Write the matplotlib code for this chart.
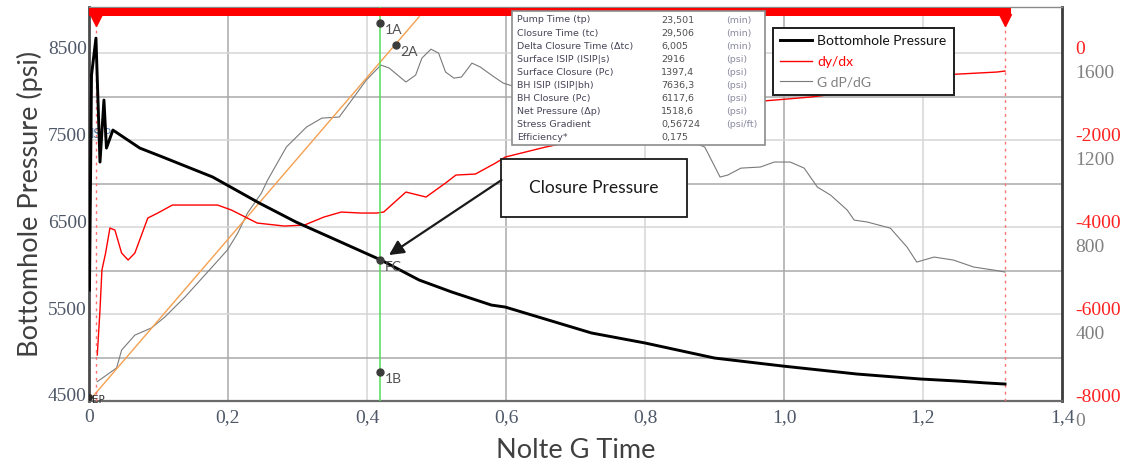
import matplotlib
matplotlib.use('Agg')
import matplotlib.pyplot as plt
import matplotlib.transforms as mtransforms
from matplotlib.lines import Line2D
from matplotlib.patches import Rectangle

plt.rcParams['axes.unicode_minus'] = False

# Dados
bhp_g = [0.0007, 0.0036, 0.010, 0.0158, 0.0215, 0.0251, 0.0344, 0.0731, 0.106,
         0.178, 0.245, 0.298, 0.356, 0.420, 0.475, 0.522, 0.579, 0.599, 0.723,
         0.800, 0.900, 0.998, 1.105, 1.196, 1.249, 1.292, 1.318]
bhp_psi = [5776, 8247, 8672, 7247, 7960, 7408, 7615, 7408, 7305,
           7075, 6776, 6557, 6350, 6121, 5891, 5753, 5603, 5580, 5282,
           5167, 4994, 4902, 4810, 4753, 4730, 4707, 4695]

dydx_g = [0.0119, 0.0158, 0.0186, 0.0239, 0.0301, 0.0373, 0.0469, 0.0563, 0.066,
          0.0846, 0.0989, 0.120, 0.185, 0.205, 0.242, 0.281, 0.310, 0.338, 0.363,
          0.391, 0.414, 0.424, 0.456, 0.485, 0.513, 0.528, 0.556, 0.585, 0.599,
          0.657, 0.761, 0.862, 0.952, 1.038, 1.120, 1.224, 1.306, 1.318]
dydx_val = [-6942, -5908, -4988, -4597, -4023, -4069, -4597, -4758, -4597,
            -3793, -3678, -3494, -3494, -3609, -3908, -3977, -3954, -3770, -3655,
            -3678, -3678, -3655, -3195, -3310, -2988, -2804, -2781, -2528, -2390,
            -2160, -1816, -1425, -1126, -1011, -850, -505, -436, -413]

gdp_g = [0.0119, 0.0397, 0.0469, 0.066, 0.0899, 0.109, 0.138, 0.176, 0.199, 0.214,
         0.228, 0.248, 0.257, 0.284, 0.313, 0.335, 0.360, 0.378, 0.399, 0.420,
         0.432, 0.456, 0.470, 0.479, 0.492, 0.503, 0.513, 0.525, 0.536, 0.551,
         0.563, 0.579, 0.596, 0.675, 0.790, 0.886, 0.908, 0.919, 0.938, 0.966,
         0.986, 1.009, 1.029, 1.048, 1.067, 1.091, 1.101, 1.120, 1.153, 1.177,
         1.191, 1.216, 1.244, 1.273, 1.302, 1.318]
gdp_val = [89, 152, 234, 303, 336, 386, 478, 612, 694, 772,
           864, 956, 1016, 1168, 1260, 1301, 1306, 1384, 1476, 1545,
           1531, 1467, 1499, 1577, 1618, 1600, 1513, 1485, 1490, 1554,
           1536, 1499, 1462, 1384, 1292, 1168, 1030, 1039, 1071, 1076,
           1099, 1099, 1071, 984, 947, 878, 832, 823, 795, 708,
           639, 662, 648, 616, 602, 593]

tangent_slope = 3720     # reta pela origem (G dP/dG por unidade de G)
tangent_end_g = 0.475

shutin_g = 0.01
closure_g = 0.419
end_g = 1.318
bar_end_g = 1.327

point_names = ['1A', '2A', '1B', 'FC']
point_g = [0.419, 0.4416, 0.419, 0.419]
point_psi = [8845, 8592, 4833, 6121]

x_ticks = [0, 0.2, 0.4, 0.6, 0.8, 1.0, 1.2, 1.4]
x_tick_labels = ['0', '0,2', '0,4', '0,6', '0,8', '1,0', '1,2', '1,4']
x_grid_dark = [0.2, 0.6, 1.0]
x_grid_light = [0.4, 0.8, 1.2]
psi_ticks = [4500, 5500, 6500, 7500, 8500]
psi_grid_dark = [5000, 6000, 7000, 8000]
dydx_ticks = [-8000, -6000, -4000, -2000, 0]
gdp_ticks = [0, 400, 800, 1200, 1600]

table_labels = ['Pump Time (tp)', 'Closure Time (tc)', 'Delta Closure Time (\u0394tc)',
                'Surface ISIP (ISIP|s)', 'Surface Closure (Pc)', 'BH ISIP (ISIP|bh)',
                'BH Closure (Pc)', 'Net Pressure (\u0394p)', 'Stress Gradient', 'Efficiency*']
table_values = ['23,501', '29,506', '6,005', '2916', '1397,4', '7636,3',
                '6117,6', '1518,6', '0,56724', '0,175']
table_units = ['(min)', '(min)', '(min)', '(psi)', '(psi)', '(psi)',
               '(psi)', '(psi)', '(psi/ft)', '']

# limites: eixos direitos alinhados com a grade em psi
psi_lim = (4500, 9030)
dydx_lim = (-8000, (psi_lim[1] - 8500) * 2)
gdp_lim = (0, (psi_lim[1] - 4500) * 0.4)

TICK_FONT = 'Liberation Serif'
LABEL_FONT = 'Lato'

fig = plt.figure(figsize=(11.3, 4.68), dpi=100)
ax = fig.add_axes([89 / 1130, 1 - 401 / 468, 973 / 1130, 394 / 468])
ax_red = ax.twinx()
ax_gray = ax.twinx()

# ordem: cinza embaixo, vermelho no meio, pressao + anotacoes em cima
ax_gray.set_zorder(1)
ax_red.set_zorder(2)
ax.set_zorder(3)
ax.patch.set_visible(False)
ax_red.patch.set_visible(False)
ax_gray.patch.set_visible(True)
ax_gray.patch.set_facecolor('white')

# grade (desenhada no eixo de baixo)
for xg in x_grid_dark:
    ax_gray.axvline(xg, color='#a9a9a9', lw=1.1, zorder=0)
for xg in x_grid_light:
    ax_gray.axvline(xg, color='#d6d6d6', lw=1.1, zorder=0)
hblend = mtransforms.blended_transform_factory(ax_gray.transAxes, ax.transData)
for p in psi_grid_dark:
    ax_gray.add_line(Line2D([0, 1], [p, p], transform=hblend, color='#a9a9a9', lw=1.1, zorder=0))
for p in psi_ticks[1:]:
    ax_gray.add_line(Line2D([0, 1], [p, p], transform=hblend, color='#d6d6d6', lw=1.1, zorder=0))

# curvas
gray_line, = ax_gray.plot(gdp_g, gdp_val, color='#7a7a7a', lw=0.8, label='G dP/dG')
ax_gray.plot([0, tangent_end_g], [0, tangent_slope * tangent_end_g],
             color='#f5a050', lw=1.0)
red_line, = ax_red.plot(dydx_g, dydx_val, color='#ff0000', lw=1.0, label='dy/dx')
black_line, = ax.plot(bhp_g, bhp_psi, color='black', lw=2.1, label='Bottomhole Pressure',
                      zorder=4)

# linhas verticais: fechamento e limites
ax.axvline(closure_g, color='#55dd55', lw=1.1, zorder=3)
for xv in [shutin_g, end_g]:
    ax.axvline(xv, color='#ff7070', lw=1.0, ls=(0, (2, 3)), zorder=3)

# barra vermelha no topo
btrans = mtransforms.blended_transform_factory(ax.transData, ax.transAxes)
ax.fill_between([0, bar_end_g], 0.977, 0.9975, transform=btrans, color='#ff0000',
                lw=0, zorder=6)
ax.plot([shutin_g, end_g], [0.968, 0.968], 'v', transform=btrans, color='#ff0000',
        ms=8, zorder=6)

# pontos selecionados
ax.plot(point_g, point_psi, 'o', color='#3c3c3c', ms=5, zorder=7)
for name, g, p in zip(point_names, point_g, point_psi):
    ax.annotate(name, (g, p), xytext=(3, -5), textcoords='offset points',
                fontsize=10, family=LABEL_FONT, color='#505050', va='center', zorder=7)
ax.text(0.003, 7569, 'ISIP', fontsize=9, family=LABEL_FONT, color='#5b7fa5',
        va='center', ha='left', zorder=3)
ax.plot([0.0007], [4546], 'o', color='#2a2a2a', ms=4, zorder=7)
ax.text(0.005, 4515, 'EP', fontsize=7.5, color='#333333', va='center', zorder=7)

# caixa "Closure Pressure" com seta
ax.add_patch(Rectangle((0.5935, 6615), 0.2667, 667, facecolor='white',
                       edgecolor='#1a1a1a', lw=1.3, zorder=8))
ax.text(0.5935 + 0.2667 / 2, 6948, 'Closure Pressure', fontsize=12.5,
        family=LABEL_FONT, color='#1a1a1a', ha='center', va='center', zorder=9)
ax.annotate('', xy=(0.4316, 6178), xytext=(0.5935, 7040),
            arrowprops=dict(arrowstyle='-|>', color='#1a1a1a', lw=1.6,
                            mutation_scale=22, shrinkA=0, shrinkB=0), zorder=9)

# tabela de resultados
ax.add_patch(Rectangle((0.4347, 0.6497), 0.2601, 0.3401, transform=ax.transAxes,
                       facecolor='white', edgecolor='#8c8c8c', lw=1.2, zorder=10))
row_y0 = (401 - 20) / 394
row_dy = 13.1 / 394
for i, (lab, val, unit) in enumerate(zip(table_labels, table_values, table_units)):
    yy = row_y0 - i * row_dy
    ax.text(0.4399, yy, lab, transform=ax.transAxes, fontsize=6.8, color='#4a4458',
            va='center', zorder=11)
    ax.text(0.5879, yy, val, transform=ax.transAxes, fontsize=6.8, color='#4f4f4f',
            va='center', zorder=11)
    ax.text(0.6547, yy, unit, transform=ax.transAxes, fontsize=6.8, color='#8a8aa0',
            va='center', zorder=11)

# legenda
leg = ax.legend(handles=[black_line, red_line, gray_line], loc='upper left',
                bbox_to_anchor=(0.703, 0.9467), borderaxespad=0, fancybox=False,
                prop={'family': LABEL_FONT, 'size': 10}, handlelength=2.3,
                handletextpad=0.4, labelspacing=0.62, borderpad=0.5, framealpha=1)
leg.get_frame().set_edgecolor('#1e1e1e')
leg.get_frame().set_linewidth(1.4)
leg.set_zorder(12)
for txt, col in zip(leg.get_texts(), ['#111111', '#ff0000', '#808080']):
    txt.set_color(col)

# eixos e ticks
ax.set_xlim(0, 1.395)
ax.set_ylim(*psi_lim)
ax_red.set_ylim(*dydx_lim)
ax_gray.set_ylim(*gdp_lim)

ax.set_xticks(x_ticks)
ax.set_xticklabels(x_tick_labels)
ax.set_yticks(psi_ticks)
ax_red.set_yticks(dydx_ticks)
ax_gray.set_yticks(gdp_ticks)

ax.tick_params(axis='both', length=0, labelsize=14, labelcolor='#4e5868')
ax.tick_params(axis='x', pad=6)
ax.tick_params(axis='y', pad=1.5)
ax_red.tick_params(axis='y', length=0, labelsize=14, labelcolor='#ff2020', pad=9.5)
ax_gray.tick_params(axis='y', length=0, labelsize=14, labelcolor='#808080', pad=9.5)
for a in (ax, ax_red, ax_gray):
    for lbl in a.get_xticklabels() + a.get_yticklabels():
        lbl.set_family(TICK_FONT)

for a in (ax_red, ax_gray):
    for s in a.spines.values():
        s.set_visible(False)
ax.spines['left'].set_color('#4a4a4a')
ax.spines['left'].set_linewidth(2)
ax.spines['bottom'].set_color('#6a6a6a')
ax.spines['bottom'].set_linewidth(1.6)
ax.spines['right'].set_color('#3c3c3c')
ax.spines['right'].set_linewidth(2)
ax.spines['top'].set_color('#8a8a8a')
ax.spines['top'].set_linewidth(1)

ax.set_xlabel('Nolte G Time', fontsize=19.5, family=LABEL_FONT, color='#404040')
ax.set_ylabel('Bottomhole Pressure (psi)', fontsize=19.5, family=LABEL_FONT, color='#404040')
ax.xaxis.label.set_va('center')
ax.yaxis.label.set_va('center')
ax.xaxis.set_label_coords(0.5, -(450 - 401) / 394)
ax.yaxis.set_label_coords(-(89 - 30) / 973, 0.5)

# rotulos do eixo y deslocados: vermelho/psi acima da grade, cinza abaixo
fig.canvas.draw()


def shift_labels(labels, dy_px):
    off = mtransforms.ScaledTranslation(0, dy_px / fig.dpi, fig.dpi_scale_trans)
    for lbl in labels:
        lbl.set_transform(lbl.get_transform() + off)


shift_labels(ax.get_yticklabels(), 6)
shift_labels(ax_red.get_yticklabels(), 6)
shift_labels(ax_gray.get_yticklabels(), -18)

fig.savefig('out.png', dpi=100)
plt.close(fig)
